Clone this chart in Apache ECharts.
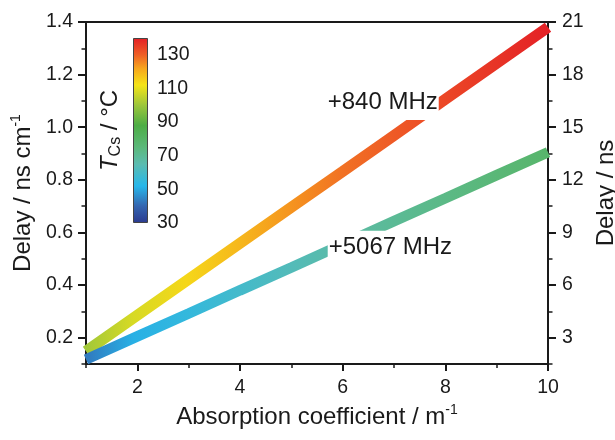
<!DOCTYPE html>
<html lang="en">
<head>
    <meta charset="UTF-8">
    <title>Delay vs absorption coefficient</title>
    <style>
        html,
        body,
        #container {
            margin: 0;
            width: 100%;
            height: 100%;
            background: #fff;
        }
    </style>
</head>
<body>
    <div id="container"></div>
    <script src="https://cdn.jsdelivr.net/npm/echarts@6/dist/echarts.min.js"></script>
    <script>
        // values
        var absorption = [1, 2, 3, 4, 5, 6, 7, 8, 9, 10];
        var delay840 = [0.148, 0.285, 0.422, 0.559, 0.696, 0.832, 0.969, 1.106, 1.243, 1.38];
        var delay5067 = [0.117, 0.205, 0.292, 0.380, 0.467, 0.555, 0.643, 0.730, 0.818, 0.905];
        var temp840 = [100, 108, 114, 119, 124, 128, 131, 134, 137, 140];
        var temp5067 = [42, 51, 55, 59, 63, 67, 70, 73, 76, 79];
        var leftTicks = [0.2, 0.4, 0.6, 0.8, 1.0, 1.2, 1.4];
        var rightTicks = [3, 6, 9, 12, 15, 18, 21];
        var xTicks = [2, 4, 6, 8, 10];
        var cbTicks = [30, 50, 70, 90, 110, 130];
        var cbMin = 30, cbMax = 140;

        // colour map of the temperature bar
        var cmapStops = [
            [30, '#2b3a8f'], [40, '#3465b0'], [52, '#27b7ea'], [65, '#5bbcb0'],
            [75, '#5bb87a'], [88, '#4dad45'], [100, '#9cc63b'], [112, '#f5e418'],
            [122, '#f7a51d'], [130, '#ef5f26'], [140, '#e41f26']
        ];

        function hexToRgb(h) {
            return [parseInt(h.slice(1, 3), 16), parseInt(h.slice(3, 5), 16), parseInt(h.slice(5, 7), 16)];
        }
        function tempColor(t) {
            for (var i = 1; i < cmapStops.length; i++) {
                if (t <= cmapStops[i][0] || i === cmapStops.length - 1) {
                    var a = cmapStops[i - 1], b = cmapStops[i];
                    var f = Math.max(0, Math.min(1, (t - a[0]) / (b[0] - a[0])));
                    var ca = hexToRgb(a[1]), cb = hexToRgb(b[1]);
                    return 'rgb(' + ca.map(function (v, k) { return Math.round(v + (cb[k] - v) * f); }).join(',') + ')';
                }
            }
        }
        function lineGradient(temps) {
            var x0 = absorption[0], x1 = absorption[absorption.length - 1];
            return new echarts.graphic.LinearGradient(0, 0, 1, 0, absorption.map(function (x, i) {
                return { offset: (x - x0) / (x1 - x0), color: tempColor(temps[i]) };
            }));
        }
        var barGradient = new echarts.graphic.LinearGradient(0, 0, 0, 1, cmapStops.map(function (s) {
            return { offset: (cbMax - s[0]) / (cbMax - cbMin), color: s[1] };
        }).reverse());

        function zip(xs, ys) {
            return xs.map(function (x, i) { return [x, ys[i]]; });
        }

        var font = 'Liberation Sans';
        var ink = '#1a1a1a';

        var dom = document.getElementById('container');
        var myChart = echarts.init(dom, null, { renderer: 'canvas' });

        var option = {
            animation: false,
            textStyle: { fontFamily: font, color: ink },
            grid: [
                {
                    left: 86, right: 67, top: 22, bottom: 76, outerBoundsMode: 'none',
                    show: true, borderColor: ink, borderWidth: 2, backgroundColor: 'transparent'
                },
                { left: 133, top: 38, width: 15, height: 185, outerBoundsMode: 'none' }
            ],
            xAxis: [
                {
                    gridIndex: 0, type: 'value', min: 1, max: 10,
                    name: '{b|Absorption coefficient / m}{s|-1}', nameLocation: 'middle', nameGap: 36,
                    nameTextStyle: {
                        rich: {
                            b: { fontSize: 24, fontFamily: font, color: ink, lineHeight: 28 },
                            s: { fontSize: 14, fontFamily: font, color: ink, lineHeight: 14, verticalAlign: 'top' }
                        }
                    },
                    axisLine: { lineStyle: { color: ink, width: 2 } },
                    axisTick: { customValues: xTicks, length: 7, lineStyle: { width: 2, color: ink } },
                    axisLabel: { customValues: xTicks, fontSize: 19.5, color: ink, margin: 14 },
                    splitLine: { show: false }
                },
                {
                    gridIndex: 0, type: 'value', min: 1, max: 10, interval: 1, position: 'bottom',
                    axisLine: { show: false },
                    axisTick: { length: 4, lineStyle: { width: 1.5, color: ink } },
                    axisLabel: { show: false },
                    splitLine: { show: false }
                },
                {
                    gridIndex: 1, type: 'category', data: ['T'], show: false
                }
            ],
            yAxis: [
                {
                    gridIndex: 0, type: 'value', min: 0.1, max: 1.4, position: 'left',
                    name: '{b|Delay / ns cm}{s|-1}', nameLocation: 'middle', nameGap: 46,
                    nameTextStyle: {
                        rich: {
                            b: { fontSize: 24, fontFamily: font, color: ink, lineHeight: 28 },
                            s: { fontSize: 14, fontFamily: font, color: ink, lineHeight: 14, verticalAlign: 'top' }
                        }
                    },
                    axisLine: { lineStyle: { color: ink, width: 2 } },
                    axisTick: { customValues: leftTicks, length: 8, lineStyle: { width: 2, color: ink } },
                    axisLabel: {
                        customValues: leftTicks, fontSize: 19.5, color: ink, margin: 13,
                        formatter: function (v) { return v.toFixed(1); }
                    },
                    splitLine: { show: false }
                },
                {
                    gridIndex: 0, type: 'value', min: 0.1, max: 1.4, interval: 0.1, position: 'left',
                    axisLine: { show: false },
                    axisTick: { length: 4.5, lineStyle: { width: 1.5, color: ink } },
                    axisLabel: { show: false },
                    splitLine: { show: false }
                },
                {
                    gridIndex: 0, type: 'value', min: 1.5, max: 21, position: 'right',
                    name: 'Delay / ns', nameLocation: 'middle', nameGap: 46,
                    nameTextStyle: { fontSize: 24, fontFamily: font, color: ink },
                    axisLine: { lineStyle: { color: ink, width: 2 } },
                    axisTick: { customValues: rightTicks, length: 8, lineStyle: { width: 2, color: ink } },
                    axisLabel: { customValues: rightTicks, fontSize: 19.5, color: ink, margin: 14 },
                    splitLine: { show: false }
                },
                {
                    gridIndex: 0, type: 'value', min: 1.5, max: 21, interval: 1.5, position: 'right',
                    axisLine: { show: false },
                    axisTick: { length: 4.5, lineStyle: { width: 1.5, color: ink } },
                    axisLabel: { show: false },
                    splitLine: { show: false }
                },
                {
                    gridIndex: 1, type: 'value', min: cbMin, max: cbMax, position: 'right',
                    axisLine: { lineStyle: { color: '#333', width: 1 } },
                    axisTick: { customValues: cbTicks, length: 5, lineStyle: { width: 1.2, color: '#333' } },
                    axisLabel: { customValues: cbTicks, fontSize: 19.5, color: ink, margin: 9 },
                    splitLine: { show: false }
                },
                {
                    gridIndex: 1, type: 'value', min: cbMin, max: cbMax, position: 'left',
                    name: '{t|T}{sub|Cs}{b| / °C}', nameLocation: 'middle', nameGap: 9,
                    nameTextStyle: {
                        rich: {
                            t: { fontSize: 24, fontFamily: font, fontStyle: 'italic', color: ink, lineHeight: 28 },
                            sub: { fontSize: 16, fontFamily: font, color: ink, lineHeight: 16, verticalAlign: 'bottom' },
                            b: { fontSize: 24, fontFamily: font, color: ink, lineHeight: 28 }
                        }
                    },
                    axisLine: { show: false },
                    axisTick: { show: false },
                    axisLabel: { show: false },
                    splitLine: { show: false }
                }
            ],
            series: [
                {
                    name: '+840 MHz', type: 'line', xAxisIndex: 0, yAxisIndex: 0,
                    data: zip(absorption, delay840),
                    symbol: 'none', z: 3,
                    lineStyle: { width: 11, cap: 'butt', color: lineGradient(temp840) },
                    markPoint: {
                        symbol: 'rect', symbolSize: 1, itemStyle: { color: 'rgba(0,0,0,0)' },
                        label: {
                            show: true, position: 'inside', formatter: '+840 MHz',
                            fontSize: 24, fontFamily: font, color: ink,
                            backgroundColor: '#fff', padding: [6, 1, 6, 1]
                        },
                        data: [{ coord: [6.78, 1.096] }]
                    }
                },
                {
                    name: '+5067 MHz', type: 'line', xAxisIndex: 0, yAxisIndex: 0,
                    data: zip(absorption, delay5067),
                    symbol: 'none', z: 3,
                    lineStyle: { width: 10.5, cap: 'butt', color: lineGradient(temp5067) },
                    markPoint: {
                        symbol: 'rect', symbolSize: 1, itemStyle: { color: 'rgba(0,0,0,0)' },
                        label: {
                            show: true, position: 'inside', formatter: '+5067 MHz',
                            fontSize: 24, fontFamily: font, color: ink,
                            backgroundColor: '#fff', padding: [6, 1, 4, 1]
                        },
                        data: [{ coord: [6.93, 0.542] }]
                    }
                },
                {
                    type: 'bar', xAxisIndex: 2, yAxisIndex: 4, stack: 'cb', barWidth: '100%',
                    data: [cbMin], itemStyle: { color: 'rgba(0,0,0,0)' }, silent: true
                },
                {
                    type: 'bar', xAxisIndex: 2, yAxisIndex: 4, stack: 'cb', barWidth: '100%',
                    data: [cbMax - cbMin], silent: true,
                    itemStyle: { color: barGradient, borderColor: '#444', borderWidth: 1 }
                }
            ]
        };

        myChart.setOption(option);
    </script>
</body>
</html>
